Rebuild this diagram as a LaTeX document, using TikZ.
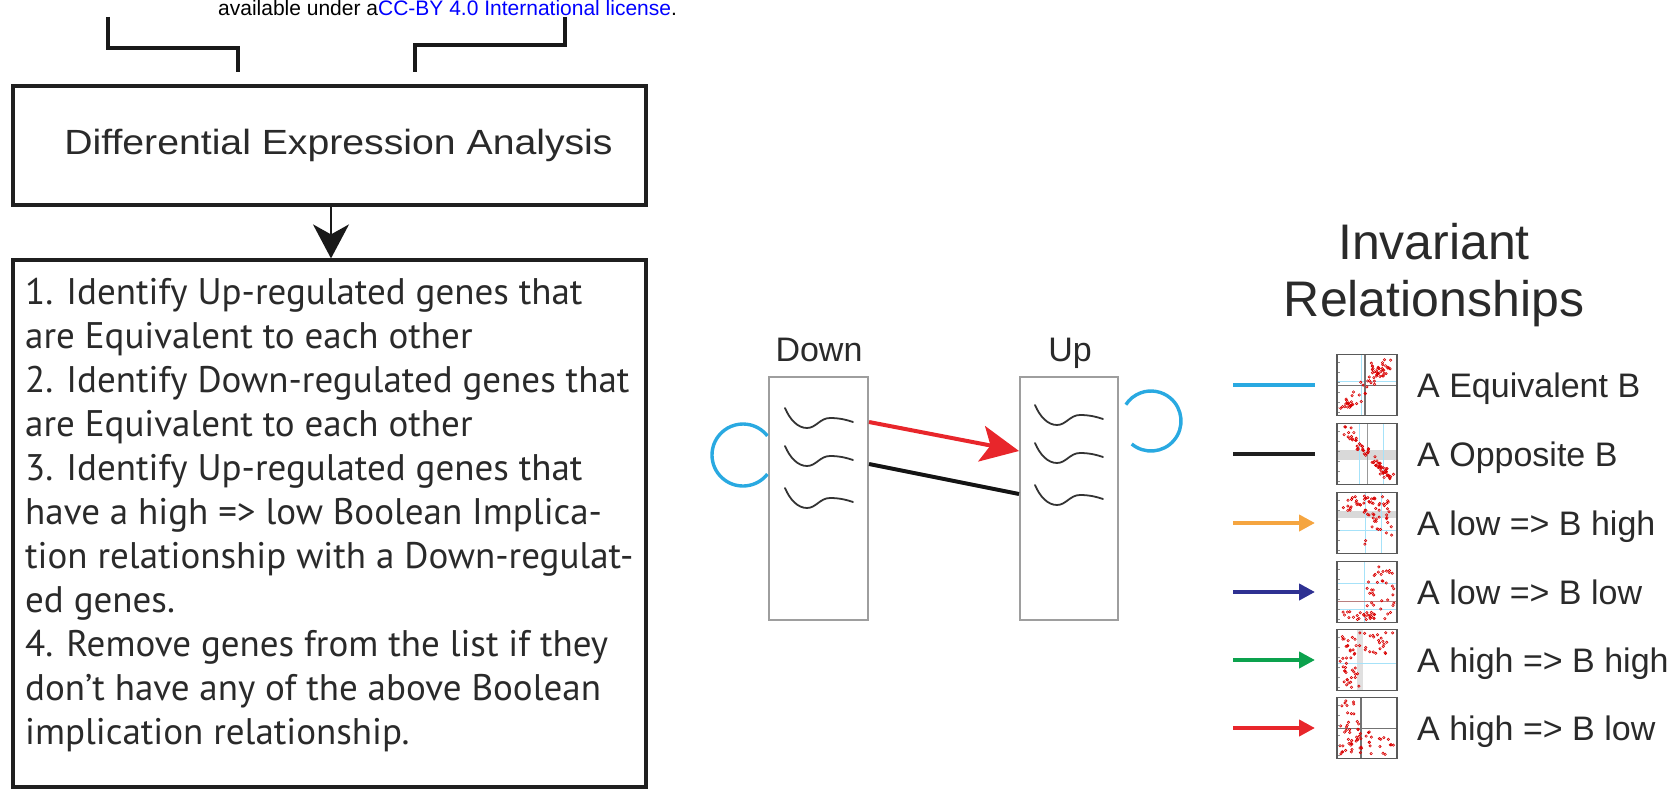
\documentclass[tikz,border=0pt]{standalone}
\usepackage{fontspec}
\usepackage{graphicx}
\setmainfont{Liberation Sans}
\newfontfamily\myriad{PT Sans}
\usetikzlibrary{arrows.meta,calc}
\definecolor{cblue}{HTML}{29A9E1}
\definecolor{cred}{HTML}{E8262B}
\definecolor{corange}{HTML}{F5A540}
\definecolor{cnavy}{HTML}{2E3192}
\definecolor{cgreen}{HTML}{0CA24D}
\definecolor{linkblue}{HTML}{0000FF}
\definecolor{txtgray}{HTML}{2A2A2A}

\newcommand\genewave[2]{%
  \begin{scope}[shift={(#1,#2)}]
    \draw[wavest] (0,0) .. controls (5,12) and (13,20) .. (22,20)
      .. controls (31,20) and (35,10) .. (45,10)
      .. controls (55,10) and (62,12) .. (68,14);
  \end{scope}}
\newcommand\thumbdots[5]{%
  \foreach \k in {1,...,#5}{%
    \pgfmathsetmacro\thx{#1+(#2-#1)*rnd}%
    \pgfmathsetmacro\thy{#3+(#4-#3)*rnd}%
    \draw[dotst] (\thx,\thy) circle[radius=1.2];}}
\newcommand\thumbdiag[6]{%
  \foreach \k in {1,...,#6}{%
    \pgfmathsetmacro\thq{rnd}%
    \pgfmathsetmacro\thx{#1+(#3-#1)*\thq+#5*rand}%
    \pgfmathsetmacro\thy{#2+(#4-#2)*\thq+#5*rand}%
    \draw[dotst] (\thx,\thy) circle[radius=1.2];}}
\newcommand\thumb[3]{%
  \begin{scope}[shift={(1337,{#2-30.5})}]
    \clip (0,0) rectangle (60,61);
    #3
    \foreach \k in {8,18,...,58}{\draw[black!45,line width=0.5pt] (0,\k) -- (2.5,\k);}
  \end{scope}
  \node[thumbframe] (#1) at (1367,#2) {};}

\begin{document}
\begin{tikzpicture}[x=1pt,y=-1pt,
  boxdark/.style={draw=black!88, line width=3.2pt, inner sep=0pt},
  genebox/.style={draw=black!38, line width=2pt, inner sep=0pt},
  wavest/.style={draw=black!80, line width=1.8pt, line cap=round},
  loopst/.style={draw=cblue, line width=3.4pt},
  bracket/.style={draw=black!90, line width=4pt},
  legline/.style={line width=4pt},
  legtext/.style={anchor=base west, inner sep=0pt, font=\fontsize{34}{40}\selectfont, text=txtgray},
  thumbframe/.style={draw=black!65, line width=1.6pt, minimum width=60pt, minimum height=61pt, inner sep=0pt},
  dotst/.style={draw=red!85!black, line width=0.6pt},
  lbl/.style={anchor=base, inner sep=0pt, font=\fontsize{34}{40}\selectfont, text=txtgray},
]
\useasboundingbox (0,0) rectangle (1676,789);
\pgfmathsetseed{7}

% ---------- top licence line and brackets ----------
\node[anchor=base west, inner sep=0pt, font=\fontsize{21}{24}\selectfont] (lic) at (218,16)
  {available under a\textcolor{linkblue}{CC-BY 4.0 International license}.};
\coordinate (bLtop) at (108,17);
\coordinate (bLbot) at (238,72);
\coordinate (bRtop) at (565,17);
\coordinate (bRbot) at (415,72);
\draw[bracket] (bLtop) -- ++(0,31) -| (bLbot);
\draw[bracket] (bRtop) -- ++(0,28) -| (bRbot);

% ---------- left flow ----------
\node[boxdark, minimum width=633pt, minimum height=119pt] (dea) at (329.5,145.5) {};
\node[anchor=base, inner sep=0pt, text=txtgray] (deatxt) at (338.5,155)
  {\scalebox{1.12}[1]{\fontsize{35}{40}\selectfont Differential Expression Analysis}};
\node[boxdark, minimum width=633pt, minimum height=527pt] (steps) at (329.5,523.5) {};
\coordinate (ax) at (331,0);
\draw[line width=2pt, black!90, -{Stealth[length=34pt,width=36pt,inset=10pt]}]
  (dea.south -| ax) -- (steps.north -| ax);
\node[anchor=base west, inner sep=0pt, text=txtgray] (stepstxt) at (25,304)
  {\parbox[t]{640pt}{\raggedright\myriad\fontsize{37}{44}\selectfont
   1. Identify Up-regulated genes that\\
   are Equivalent to each other\\
   2. Identify Down-regulated genes that\\
   are Equivalent to each other\\
   3. Identify Up-regulated genes that\\
   have a high => low Boolean Implica-\\
   tion relationship with a Down-regulat-\\
   ed genes.\\
   4. Remove genes from the list if they\\
   don’t have any of the above Boolean\\
   implication relationship.}};

% ---------- middle: Down / Up ----------
\node[genebox, minimum width=99pt, minimum height=243pt] (down) at (818.5,498.5) {};
\node[genebox, minimum width=98pt, minimum height=243pt] (up) at (1069,498.5) {};
\node[lbl] (downlbl) at (819,361) {Down};
\node[lbl] (uplbl) at (1070,361) {Up};
\genewave{785}{408}\genewave{785}{446}\genewave{785}{488}
\genewave{1035}{405}\genewave{1035}{443}\genewave{1035}{485}
\draw[line width=4pt, cred, -{Stealth[length=38pt,width=36pt,inset=9pt]}]
  ($(down.north east)+(0,46)$) -- ($(up.north west)+(0,75)$);
\draw[line width=4pt, black!92]
  ($(down.north east)+(0,88)$) -- ($(up.north west)+(0,118)$);
\coordinate (lc) at (743,455);
\draw[loopst] (lc) ++(38:31) arc[start angle=38, end angle=322, radius=31];
\coordinate (rc) at (1151,421);
\draw[loopst] (rc) ++(130:30) arc[start angle=130, end angle=-147, radius=30];

% ---------- legend ----------
\node[anchor=base, inner sep=0pt, text=txtgray] (title) at (1434,259)
  {\parbox[t]{400pt}{\centering\fontsize{50}{57}\selectfont Invariant\\Relationships}};

\thumb{t1}{385}{%
  \draw[cyan!35,line width=1pt] (24,0)--(24,61) (0,27)--(60,27);
  \draw[black!55,line width=1.6pt] (28,0)--(28,61) (0,31)--(60,31);
  \thumbdiag{4}{57}{56}{5}{6}{50}\thumbdots{34}{52}{8}{22}{22}}
\thumb{t2}{454}{%
  \fill[black!15] (0,26) rectangle (60,36);
  \draw[cyan!35,line width=1pt] (22,0)--(22,61) (46,0)--(46,61);
  \draw[black!40,line width=1pt] (30,0)--(30,61);
  \thumbdiag{8}{5}{54}{56}{4}{70}}
\thumb{t3}{523}{%
  \fill[black!15] (0,18) rectangle (60,25);
  \draw[cyan!35,line width=1pt] (28,0)--(28,61) (44,0)--(44,61) (0,38)--(60,38);
  \thumbdots{6}{56}{3}{20}{45}\thumbdots{26}{56}{20}{56}{22}}
\thumb{t4}{592}{%
  \draw[cyan!35,line width=1pt] (0,22)--(60,22) (0,48)--(60,48) (27,0)--(27,61);
  \draw[red!45!black!50,line width=1.2pt] (0,40)--(60,40);
  \thumbdots{30}{57}{4}{50}{32}\thumbdots{3}{57}{50}{58}{28}}
\thumb{t5}{660}{%
  \fill[black!12] (20,0) rectangle (26,61);
  \draw[cyan!35,line width=1pt] (0,34)--(60,34);
  \thumbdots{3}{57}{3}{24}{38}\thumbdots{3}{22}{24}{58}{26}}
\thumb{t6}{728}{%
  \draw[black!55,line width=1.6pt] (24,0)--(24,61) (0,31)--(60,31);
  \thumbdots{3}{22}{3}{58}{30}\thumbdots{3}{57}{34}{58}{34}}

\foreach \i/\yy in {1/385,2/454,3/523,4/592,5/660,6/728}{
  \coordinate (ls\i) at (1233,\yy);
  \coordinate (le\i) at (1315,\yy);
}
\draw[legline, cblue] (ls1) -- (le1);
\draw[legline, black!88] (ls2) -- (le2);
\draw[legline, corange, -{Triangle[length=16pt,width=16pt]}] (ls3) -- (le3);
\draw[legline, cnavy, -{Triangle[length=16pt,width=16pt]}] (ls4) -- (le4);
\draw[legline, cgreen, -{Triangle[length=16pt,width=16pt]}] (ls5) -- (le5);
\draw[legline, cred, -{Triangle[length=16pt,width=16pt]}] (ls6) -- (le6);

\node[legtext] (l1) at (1417,397) {A Equivalent B};
\node[legtext] (l2) at (1417,466) {A Opposite B};
\node[legtext] (l3) at (1417,535) {A low => B high};
\node[legtext] (l4) at (1417,604) {A low => B low};
\node[legtext] (l5) at (1417,672) {A high => B high};
\node[legtext] (l6) at (1417,740) {A high => B low};
\end{tikzpicture}
\end{document}
